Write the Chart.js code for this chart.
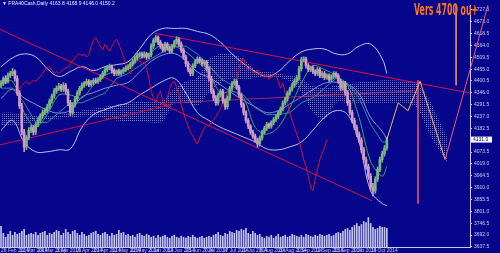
<!DOCTYPE html>
<html>
<head>
<meta charset="utf-8">
<script src="https://cdn.jsdelivr.net/npm/chart.js@4.4.1/dist/chart.umd.min.js"></script>
<style>
  html, body { margin: 0; padding: 0; background: #06068c; }
  #wrap { position: relative; width: 500px; height: 253px; overflow: hidden; }
  #title { position: absolute; left: 2px; top: 0px; font: 5px 'Liberation Sans', sans-serif; color: #e8e8ff; white-space: nowrap; }
  #target { position: absolute; left: 414px; top: 3px; font: bold 15px 'DejaVu Sans', sans-serif; color: #ff7418;
            white-space: nowrap; transform-origin: 0 0; display: inline-block; line-height: 1; }
</style>
</head>
<body>
<div id="wrap">
  <canvas id="chart" width="500" height="253"></canvas>
  <div id="title">▼ FRA40Cash,Daily  4163.8 4168.9 4146.0 4150.2</div>
  <div id="target">Vers 4700 ou+</div>
</div>
<script>
// bottom axis: one label every 8 sessions
const dateTickIdx = [0, 8, 16, 24, 32, 40, 48, 56, 64, 72, 80, 88, 96, 104, 112, 120, 128, 136, 144, 152, 160];
const dateLabels = ['28 Feb 2014', '12 Mar 2014', '24 Mar 2014', '3 Apr 2014', '15 Apr 2014', '29 Apr 2014', '12 May 2014',
  '22 May 2014', '3 Jun 2014', '13 Jun 2014', '25 Jun 2014', '7 Jul 2014', '17 Jul 2014', '29 Jul 2014', '8 Aug 2014',
  '20 Aug 2014', '1 Sep 2014', '11 Sep 2014', '23 Sep 2014', '3 Oct 2014', '15 Oct 2014'];

const priceTicks = [4727.5, 4673.0, 4618.5, 4564.0, 4509.5, 4455.0, 4400.5, 4346.0, 4291.5, 4237.0, 4182.5,
  4128.0, 4073.5, 4019.0, 3964.5, 3910.0, 3855.5, 3801.0, 3746.5, 3692.0, 3637.5];

// daily candles
const opens = [
  4380, 4390, 4412, 4399, 4426, 4435, 4444, 4412, 4345, 4286,
  4165, 4097, 4142, 4174, 4187, 4165, 4201, 4219, 4241, 4255,
  4264, 4282, 4309, 4331, 4354, 4367, 4376, 4363, 4381, 4354,
  4300, 4255, 4291, 4318, 4345, 4367, 4381, 4390, 4399, 4385,
  4394, 4403, 4399, 4408, 4421, 4435, 4453, 4462, 4466, 4448,
  4435, 4444, 4435, 4444, 4453, 4462, 4466, 4480, 4493, 4507,
  4520, 4525, 4516, 4525, 4511, 4520, 4561, 4588, 4601, 4579,
  4561, 4543, 4570, 4552, 4538, 4561, 4579, 4592, 4570, 4543,
  4511, 4480, 4453, 4435, 4471, 4489, 4502, 4493, 4480, 4489,
  4457, 4412, 4354, 4322, 4300, 4336, 4354, 4309, 4282, 4322,
  4367, 4390, 4399, 4372, 4336, 4291, 4255, 4219, 4192, 4165,
  4147, 4129, 4111, 4138, 4165, 4183, 4201, 4192, 4210, 4223,
  4237, 4255, 4273, 4300, 4318, 4345, 4363, 4381, 4399, 4417,
  4457, 4498, 4502, 4471, 4453, 4462, 4444, 4435, 4453, 4426,
  4435, 4417, 4426, 4408, 4421, 4435, 4426, 4399, 4367, 4390,
  4345, 4300, 4255, 4219, 4187, 4156, 4129, 4084, 4039, 4007,
  3962, 3913, 3895, 3949, 3994, 4039, 4066, 4093];
const highs = [
  4402, 4420, 4425, 4438, 4446, 4458, 4452, 4425, 4356, 4298,
  4178, 4150, 4186, 4199, 4196, 4210, 4232, 4250, 4268, 4276,
  4294, 4318, 4340, 4366, 4378, 4390, 4385, 4393, 4389, 4363,
  4312, 4300, 4330, 4356, 4376, 4392, 4398, 4410, 4407, 4403,
  4412, 4414, 4416, 4430, 4446, 4462, 4471, 4478, 4474, 4457,
  4452, 4455, 4451, 4462, 4470, 4476, 4488, 4502, 4516, 4530,
  4534, 4533, 4535, 4532, 4528, 4572, 4597, 4610, 4608, 4588,
  4570, 4580, 4577, 4561, 4569, 4588, 4604, 4600, 4580, 4552,
  4520, 4490, 4462, 4480, 4498, 4512, 4510, 4502, 4497, 4496,
  4466, 4422, 4364, 4333, 4346, 4363, 4362, 4318, 4332, 4376,
  4398, 4410, 4407, 4380, 4344, 4300, 4264, 4228, 4200, 4175,
  4156, 4138, 4148, 4174, 4192, 4210, 4208, 4218, 4232, 4246,
  4263, 4282, 4309, 4327, 4354, 4372, 4390, 4408, 4426, 4468,
  4510, 4512, 4510, 4480, 4470, 4470, 4452, 4462, 4460, 4444,
  4444, 4434, 4434, 4430, 4444, 4443, 4434, 4408, 4400, 4399,
  4356, 4311, 4266, 4230, 4198, 4167, 4140, 4095, 4050, 4018,
  3975, 3930, 3960, 4005, 4050, 4078, 4104, 4142];
const lows = [
  4370, 4380, 4388, 4390, 4416, 4425, 4400, 4334, 4274, 4152,
  4075, 4085, 4130, 4163, 4152, 4154, 4190, 4209, 4231, 4245,
  4254, 4271, 4298, 4321, 4343, 4357, 4352, 4352, 4342, 4287,
  4242, 4244, 4280, 4308, 4335, 4357, 4371, 4380, 4374, 4376,
  4384, 4390, 4389, 4398, 4412, 4426, 4444, 4452, 4437, 4425,
  4425, 4426, 4426, 4435, 4444, 4452, 4457, 4471, 4484, 4498,
  4510, 4506, 4507, 4500, 4502, 4511, 4550, 4578, 4568, 4550,
  4533, 4534, 4542, 4528, 4529, 4551, 4570, 4560, 4532, 4500,
  4468, 4442, 4424, 4425, 4462, 4480, 4484, 4470, 4471, 4446,
  4400, 4343, 4310, 4288, 4290, 4326, 4298, 4270, 4272, 4312,
  4357, 4381, 4362, 4325, 4280, 4244, 4208, 4181, 4155, 4136,
  4118, 4096, 4101, 4128, 4155, 4173, 4182, 4183, 4200, 4214,
  4227, 4245, 4263, 4290, 4308, 4335, 4354, 4371, 4389, 4406,
  4446, 4488, 4460, 4443, 4444, 4434, 4425, 4426, 4416, 4416,
  4407, 4408, 4398, 4398, 4412, 4416, 4389, 4355, 4357, 4334,
  4288, 4244, 4208, 4176, 4145, 4118, 4072, 4027, 3994, 3948,
  3898, 3872, 3884, 3938, 3983, 4027, 4055, 4082];
const closes = [
  4390, 4412, 4399, 4426, 4435, 4444, 4412, 4345, 4286, 4165,
  4097, 4142, 4174, 4187, 4165, 4201, 4219, 4241, 4255, 4264,
  4282, 4309, 4331, 4354, 4367, 4376, 4363, 4381, 4354, 4300,
  4255, 4291, 4318, 4345, 4367, 4381, 4390, 4399, 4385, 4394,
  4403, 4399, 4408, 4421, 4435, 4453, 4462, 4466, 4448, 4435,
  4444, 4435, 4444, 4453, 4462, 4466, 4480, 4493, 4507, 4520,
  4525, 4516, 4525, 4511, 4520, 4561, 4588, 4601, 4579, 4561,
  4543, 4570, 4552, 4538, 4561, 4579, 4592, 4570, 4543, 4511,
  4480, 4453, 4435, 4471, 4489, 4502, 4493, 4480, 4489, 4457,
  4412, 4354, 4322, 4300, 4336, 4354, 4309, 4282, 4322, 4367,
  4390, 4399, 4372, 4336, 4291, 4255, 4219, 4192, 4165, 4147,
  4129, 4111, 4138, 4165, 4183, 4201, 4192, 4210, 4223, 4237,
  4255, 4273, 4300, 4318, 4345, 4363, 4381, 4399, 4417, 4457,
  4498, 4502, 4471, 4453, 4462, 4444, 4435, 4453, 4426, 4435,
  4417, 4426, 4408, 4421, 4435, 4426, 4399, 4367, 4390, 4345,
  4300, 4255, 4219, 4187, 4156, 4129, 4084, 4039, 4007, 3962,
  3913, 3895, 3949, 3994, 4039, 4066, 4093, 4131];
const volumes = [
  210, 140, 100, 130, 160, 120, 150, 130, 140, 160,
  180, 120, 130, 140, 130, 150, 120, 140, 150, 160,
  120, 140, 130, 150, 170, 160, 120, 140, 180, 150,
  130, 160, 170, 140, 120, 150, 130, 110, 120, 140,
  150, 160, 130, 120, 140, 150, 130, 110, 140, 120,
  130, 170, 140, 150, 120, 130, 110, 120, 100, 130,
  140, 120, 110, 130, 120, 100, 110, 90, 120, 100,
  110, 120, 100, 90, 110, 120, 100, 90, 110, 100,
  90, 110, 100, 120, 100, 90, 100, 110, 90, 100,
  110, 100, 120, 130, 150, 120, 110, 140, 130, 160,
  150, 140, 170, 160, 180, 170, 190, 140, 130, 160,
  140, 120, 130, 100, 90, 110, 100, 120, 90, 110,
  130, 100, 110, 120, 100, 110, 130, 120, 110, 100,
  120, 100, 130, 120, 110, 100, 120, 110, 130, 120,
  110, 120, 130, 110, 120, 140, 150, 140, 160, 180,
  190, 170, 200, 220, 240, 210, 230, 260, 250, 300,
  240, 200, 180, 190, 210, 200, 200, 190];

// Bollinger bands and Tenkan/Kijun, read every 5 sessions
const bandIdx = [0, 5, 10, 15, 20, 25, 30, 35, 40, 45, 50, 55, 60, 65, 70, 75, 80, 85, 90, 95,
  100, 105, 110, 115, 120, 125, 130, 135, 140, 145, 150, 155, 160, 165, 167];
const bbUpper = [4466.5, 4507, 4525, 4511.5, 4457.5, 4421.5, 4444, 4466.5, 4448.5, 4466.5,
  4475.5, 4489, 4547.5, 4615, 4642, 4642, 4642, 4628.5, 4615, 4579,
  4525, 4480, 4444, 4421.5, 4444, 4493.5, 4534, 4547.5, 4547.5, 4525,
  4525, 4561, 4570, 4502.5, 4435];
const bbMiddle = [4320, 4363, 4322, 4293, 4266, 4253, 4266, 4327, 4347, 4367,
  4381, 4394, 4442, 4491, 4520, 4527, 4494, 4442, 4417, 4383,
  4345, 4311, 4282, 4255, 4264, 4295, 4327, 4361, 4390, 4395,
  4386, 4341, 4233, 4169, 4131];
const bbLower = [4174, 4219, 4120, 4075, 4075, 4084, 4088.5, 4187.5, 4246, 4268.5,
  4286.5, 4300, 4336, 4367.5, 4399, 4412.5, 4345, 4255, 4219, 4187.5,
  4165, 4142.5, 4120, 4088.5, 4084, 4097.5, 4120, 4174, 4232.5, 4264,
  4246, 4120, 3895, 3836.5, 3827.5];
const tenkan = [4390, 4399, 4255, 4187.5, 4246, 4336, 4336, 4322.5, 4381, 4426,
  4448.5, 4453, 4502.5, 4534, 4570, 4561, 4534, 4489, 4435, 4345,
  4354, 4322.5, 4187.5, 4156, 4187.5, 4277.5, 4390, 4471, 4453, 4426,
  4381, 4232.5, 4030, 3962.5, 4007.5];
const kijun = [4367.5, 4367.5, 4300, 4210, 4210, 4255, 4300, 4300, 4322.5, 4345,
  4412.5, 4435, 4471, 4502.5, 4534, 4561, 4561, 4525, 4471, 4412.5,
  4381, 4336, 4277.5, 4246, 4246, 4255, 4300, 4322.5, 4367.5, 4412.5,
  4390, 4322.5, 4201, 4120, 4120];

// Ichimoku cloud (already shifted 26 sessions ahead)
const cloudIdx = [0, 5, 10, 15, 20, 25, 30, 35, 40, 45, 50, 55, 60, 65, 70, 75, 80, 85, 90, 95,
  100, 105, 110, 115, 120, 125, 130, 135, 140, 145, 150, 155, 160, 165, 170, 175, 180, 185, 190, 193];
const spanA = [4255, 4255, 4250.5, 4241.5, 4237, 4241.5, 4255, 4264, 4273, 4282,
  4291, 4300, 4304.5, 4309, 4313.5, 4367.5, 4399, 4417, 4502.5, 4525,
  4525, 4502.5, 4453, 4444, 4435, 4426, 4412.5, 4376.5, 4367.5, 4381,
  4390, 4394.5, 4399, 4403.5, 4403.5, 4399, 4390, 4322.5, 4210, 4142.5];
const spanB = [4196.5, 4196.5, 4201, 4214.5, 4223.5, 4228, 4232.5, 4237, 4237, 4228,
  4219, 4214.5, 4214.5, 4210, 4214.5, 4300, 4300, 4286.5, 4345, 4390,
  4412.5, 4403.5, 4417, 4421.5, 4417, 4399, 4345, 4255, 4223.5, 4300,
  4300, 4300, 4300, 4300, 4300, 4300, 4277.5, 4165, 4075, 4030];
const chikouShift = 26;
const chikouFrom = 7;

// hand drawn objects: [session index, price]
const trendDown = [[-0.43, 4637.5], [160.6, 3850]];
const trendUpper = [[66.7, 4619.5], [203, 4345]];
const trendRise = [[-0.43, 4106.5], [73.2, 4291]];
const trendFlat = [[73.2, 4300], [178.4, 4354]];
const projection = [[167, 4131], [171.9, 4300], [176.2, 4264], [181.4, 4399], [192.2, 4039]];
const projectionUp = [[192.2, 4039], [210.8, 4750]];
const markerA = [[180.5, 4403.5], [180.5, 3836.5]];
const markerB = [[197, 4750], [197, 4381]];

const pts = arr => arr.map(p => ({ x: p[0], y: p[1] }));
const series = (idx, vals) => idx.map((x, k) => ({ x: x, y: vals[k] }));

const ctx = document.getElementById('chart').getContext('2d');

// squeeze the headline into its narrow slot
const target = document.getElementById('target');
target.style.transform = 'scaleX(' + (64 / target.offsetWidth).toFixed(3) + ')';

function dotPattern() {
    const c = document.createElement('canvas');
    c.width = 2; c.height = 2;
    const g = c.getContext('2d');
    g.fillStyle = 'rgba(215, 215, 255, 0.55)';
    g.fillRect(0, 0, 1, 1);
    return ctx.createPattern(c, 'repeat');
}

const bullColor = '#7cb87c';
const bearColor = '#d29cc2';
const axisColor = '#c8c8f0';

const candleColors = closes.map((c, i) => c >= opens[i] ? bullColor : bearColor);

const bodies = closes.map((c, i) => ({ x: i, y: [opens[i], c] }));
const wicks = closes.map((c, i) => ({ x: i, y: [lows[i], highs[i]] }));
const vols = volumes.map((v, i) => ({ x: i, y: v }));
const chikou = closes.map((c, i) => ({ x: i - chikouShift, y: c })).filter(p => p.x >= chikouFrom);

function line(data, color, order, extra) {
    return Object.assign({
        type: 'line', data: data, borderColor: color, borderWidth: 1,
        pointRadius: 0, fill: false, order: order, tension: 0
    }, extra || {});
}

const background = {
    id: 'background',
    beforeDraw(chart) {
        const c = chart.ctx;
        c.save();
        c.fillStyle = '#06068c';
        c.fillRect(0, 0, chart.width, chart.height);
        c.restore();
    }
};

const priceBox = {
    id: 'priceBox',
    afterDraw(chart) {
        const last = closes[closes.length - 1];
        const y = chart.scales.y.getPixelForValue(last);
        const c = chart.ctx;
        c.save();
        c.fillStyle = '#ffffff';
        c.fillRect(chart.chartArea.right + 1, y - 3, 21, 6);
        c.fillStyle = '#000050';
        c.font = '5px "Liberation Sans"';
        c.textBaseline = 'middle';
        c.fillText(last.toFixed(1), chart.chartArea.right + 3, y + 0.5);
        c.restore();
    }
};

new Chart(ctx, {
    type: 'bar',
    data: {
        datasets: [
            line(pts(projection), '#f2b36a', 0),
            line(pts(projectionUp), '#e8586e', 0, { clip: false }),
            line(pts(markerA), '#d8506e', 0),
            line(pts(markerB), '#e08a66', 0),
            { type: 'bar', data: bodies, backgroundColor: candleColors, barThickness: 2, order: 1 },
            { type: 'bar', data: wicks, backgroundColor: candleColors, barThickness: 1, order: 2 },
            line(pts(trendDown), '#d8143c', 3),
            line(pts(trendUpper), '#d8143c', 3),
            line(pts(trendRise), '#c81438', 3),
            line(pts(trendFlat), 'rgba(210, 60, 90, 0.7)', 3),
            line(chikou, '#d41030', 4),
            line(series(bandIdx, tenkan), '#3ca65a', 5, { tension: 0.3 }),
            line(series(bandIdx, kijun), '#2a9090', 5),
            line(series(bandIdx, bbUpper), '#c0c0ec', 6, { tension: 0.4 }),
            line(series(bandIdx, bbMiddle), '#8e8ed0', 6, { tension: 0.4 }),
            line(series(bandIdx, bbLower), '#c0c0ec', 6, { tension: 0.4 }),
            { type: 'bar', data: vols, yAxisID: 'yv', backgroundColor: '#c4c4f0', barThickness: 1, order: 7 },
            line(series(cloudIdx, spanA), 'rgba(0,0,0,0)', 8, { borderWidth: 0, tension: 0.3 }),
            line(series(cloudIdx, spanB), 'rgba(0,0,0,0)', 8, { borderWidth: 0, tension: 0.3, fill: '-1', backgroundColor: dotPattern() })
        ]
    },
    options: {
        responsive: false,
        animation: false,
        devicePixelRatio: 1,
        layout: { padding: 0 },
        datasets: { bar: { grouped: false, borderWidth: 0 } },
        plugins: { legend: { display: false }, tooltip: { enabled: false } },
        scales: {
            x: {
                type: 'linear', min: -0.45, max: 203, offset: false,
                grid: { drawOnChartArea: false, color: axisColor, tickLength: 1 },
                border: { color: axisColor },
                ticks: {
                    color: axisColor, font: { size: 5, family: 'Liberation Sans' },
                    padding: 0, autoSkip: false, maxRotation: 0, minRotation: 0, align: 'start',
                    callback: v => dateLabels[dateTickIdx.indexOf(v)]
                },
                afterBuildTicks: s => { s.ticks = dateTickIdx.map(v => ({ value: v })); },
                afterFit: s => { s.height = 6; }
            },
            y: {
                position: 'right', min: 3637, max: 4750,
                grid: { drawOnChartArea: false, color: axisColor, tickLength: 2 },
                border: { color: axisColor },
                ticks: {
                    color: axisColor, font: { size: 5, family: 'Liberation Sans' },
                    padding: 2, autoSkip: false, callback: v => v.toFixed(1)
                },
                afterBuildTicks: s => { s.ticks = priceTicks.map(v => ({ value: v })); },
                afterFit: s => { s.width = 30; }
            },
            yv: { display: false, min: 0, max: 2470 }
        }
    },
    plugins: [background, priceBox]
});
</script>
</body>
</html>
